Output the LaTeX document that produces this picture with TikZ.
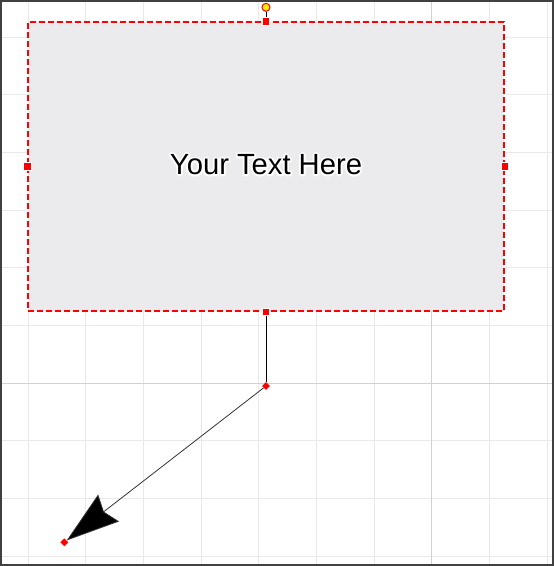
\documentclass[tikz,border=0pt]{standalone}
\usepackage{fontspec}
\setmainfont{Liberation Sans}
\usetikzlibrary{arrows.meta, shapes.geometric}
\definecolor{gridgray}{RGB}{233,233,233}
\definecolor{majorgray}{RGB}{210,210,210}
\definecolor{boxgray}{RGB}{235,235,237}
\definecolor{framegray}{RGB}{64,64,64}
% text with a white outline behind it
\newcommand{\halotext}[1]{{\color{white}\special{pdf:literal direct 2 Tr 3.8 w 1 j 1 1 1 RG}\rlap{#1}\special{pdf:literal direct 0 Tr}}#1}

\begin{document}
\begin{tikzpicture}[
          x=1pt, y=-1pt,  % pixel-like units, y pointing down
          gridline/.style={draw=gridgray, line width=1pt},
          majorline/.style={draw=majorgray, line width=1pt},
          textbox/.style={rectangle, draw=red, dash pattern=on 6pt off 3pt, line width=1.3pt, fill=boxgray, minimum width=476pt, minimum height=289pt},
          boxlabel/.style={font=\fontsize{29.2}{35}\selectfont, inner sep=0pt},
          handle/.style={rectangle, fill=red, draw=white, line width=0.6pt, minimum size=7.5pt, inner sep=0pt},
          rothandle/.style={circle, fill=yellow, draw=red, line width=1pt, minimum size=8pt, inner sep=0pt},
          bendhandle/.style={diamond, fill=red, minimum size=8pt, inner sep=0pt}
        ]
        \useasboundingbox (0,0) rectangle (554,566);
        % background grid
        \foreach \i in {0,...,9} {
          \draw[gridline] ({28+57.7*\i},0) -- ({28+57.7*\i},566);
          \draw[gridline] (0,{37+57.7*\i}) -- (554,{37+57.7*\i});
        }
        \draw[majorline] (431.9,0) -- (431.9,566);
        \draw[majorline] (0,383.2) -- (554,383.2);
        % frame
        \draw[framegray, line width=2pt] (1,1) rectangle (553,565);

        \node[textbox] (box) at (266,166.5) {};
        \node[boxlabel] (boxtext) at (266,164.5) {\halotext{Your Text Here}};

        \node[handle] (north) at (box.north) {};
        \node[handle] (south) at (box.south) {};
        \node[handle] (west) at (box.west) {};
        \node[handle] (east) at (box.east) {};
        \node[rothandle] (rot) at (266,7.3) {};
        \node[bendhandle] (bend) at (266,386) {};
        \node[bendhandle] (tipend) at (64.3,542.3) {};

        \draw[line width=0.9pt] (rot) -- (north);
        \draw[line width=0.9pt] (south) -- (bend);
        \draw[draw=black!80, line width=0.8pt, -{Stealth[length=53pt, width=34pt, inset=6pt, fill=black]}] (bend) -- (tipend);
        \end{tikzpicture}
\end{document}
